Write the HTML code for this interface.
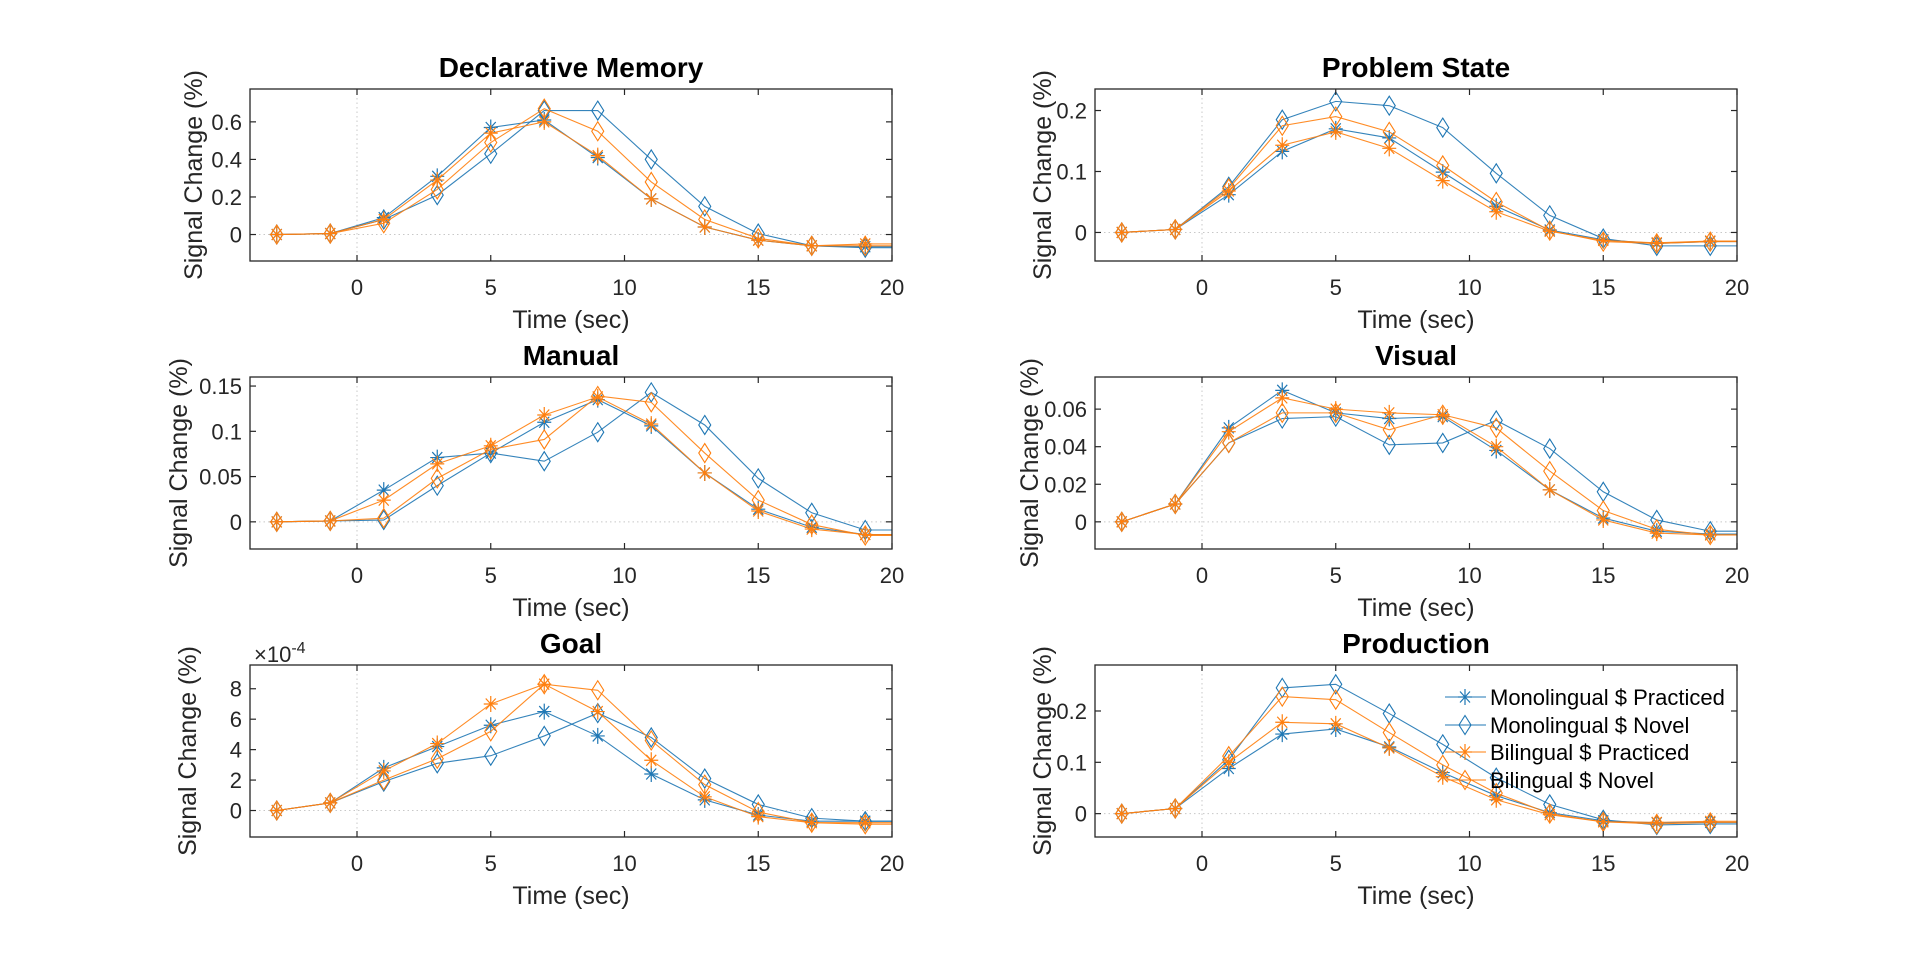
<!DOCTYPE html>
<html><head><meta charset="utf-8"><style>
html,body{margin:0;padding:0;background:#fff;}
svg{display:block;font-family:"Liberation Sans",Arial,sans-serif;}
</style></head><body>
<svg id="fig" width="1920" height="964" viewBox="0 0 1920 964"></svg>
<script>
const times = [-3,-1,1,3,5,7,9,11,13,15,17,19];
const seriesNames = ["Monolingual $ Practiced","Monolingual $ Novel","Bilingual $ Practiced","Bilingual $ Novel"];
const xTicks = [0,5,10,15,20];

const declMP = [0,0.005,0.09,0.31,0.57,0.61,0.41,0.19,0.04,-0.03,-0.06,-0.065];
const declMN = [0,0.005,0.08,0.21,0.43,0.66,0.66,0.40,0.15,0.005,-0.06,-0.07];
const declBP = [0,0.005,0.08,0.29,0.54,0.60,0.42,0.19,0.04,-0.03,-0.06,-0.05];
const declBN = [0,0.005,0.06,0.24,0.49,0.67,0.55,0.28,0.08,-0.02,-0.06,-0.06];
const declTicks = [0,0.2,0.4,0.6];

const probMP = [0,0.005,0.062,0.133,0.170,0.155,0.099,0.043,0.004,-0.012,-0.018,-0.015];
const probMN = [0,0.005,0.075,0.185,0.215,0.208,0.172,0.097,0.028,-0.010,-0.022,-0.022];
const probBP = [0,0.005,0.068,0.143,0.165,0.138,0.085,0.034,0.002,-0.013,-0.017,-0.014];
const probBN = [0,0.005,0.072,0.175,0.190,0.165,0.110,0.050,0.003,-0.015,-0.018,-0.015];
const probTicks = [0,0.1,0.2];

const manMP = [0,0.001,0.035,0.071,0.076,0.110,0.135,0.106,0.054,0.014,-0.006,-0.014];
const manMN = [0,0.001,0.002,0.040,0.076,0.067,0.099,0.143,0.107,0.048,0.010,-0.009];
const manBP = [0,0.001,0.024,0.064,0.084,0.118,0.138,0.108,0.054,0.012,-0.008,-0.014];
const manBN = [0,0.001,0.004,0.048,0.080,0.091,0.139,0.132,0.076,0.024,-0.003,-0.015];
const manTicks = [0,0.05,0.1,0.15];

const visMP = [0,0.0095,0.050,0.070,0.058,0.055,0.056,0.038,0.017,0.002,-0.005,-0.0065];
const visMN = [0,0.0095,0.042,0.055,0.056,0.041,0.042,0.054,0.039,0.016,0.001,-0.005];
const visBP = [0,0.0095,0.048,0.066,0.060,0.058,0.057,0.040,0.017,0.001,-0.006,-0.007];
const visBN = [0,0.0095,0.042,0.058,0.058,0.049,0.057,0.050,0.027,0.006,-0.004,-0.007];
const visTicks = [0,0.02,0.04,0.06];

const goalMP = [0,0.5,2.8,4.2,5.6,6.5,4.9,2.4,0.7,-0.3,-0.7,-0.7];
const goalMN = [0,0.5,1.9,3.1,3.6,4.9,6.4,4.8,2.1,0.4,-0.5,-0.7];
const goalBP = [0,0.5,2.6,4.4,7.0,8.3,6.5,3.3,0.9,-0.4,-0.8,-0.8];
const goalBN = [0,0.5,2.0,3.4,5.2,8.3,7.9,4.6,1.7,-0.1,-0.8,-0.9];
const goalTicks = [0,2,4,6,8];

const prodMP = [0,0.01,0.088,0.155,0.165,0.13,0.08,0.035,0.002,-0.014,-0.018,-0.017];
const prodMN = [0,0.01,0.105,0.245,0.252,0.195,0.135,0.07,0.018,-0.012,-0.022,-0.02];
const prodBP = [0,0.01,0.10,0.178,0.175,0.128,0.072,0.027,-0.002,-0.016,-0.017,-0.015];
const prodBN = [0,0.01,0.112,0.228,0.222,0.158,0.095,0.04,0.0,-0.016,-0.02,-0.017];
const prodTicks = [0,0.1,0.2];

const NS = "http://www.w3.org/2000/svg";
const svg = document.getElementById("fig");
const BLUE = "#1f77b4", ORANGE = "#ff7f0e";
const colors = [BLUE,BLUE,ORANGE,ORANGE];
const markers = ["star","diamond","star","diamond"];

function mk(tag, attrs, parent){
  const e = document.createElementNS(NS, tag);
  for (const k in attrs) e.setAttribute(k, attrs[k]);
  (parent||svg).appendChild(e);
  return e;
}
function marker(g, kind, x, y, c){
  if (kind === "diamond"){
    const p = mk("polygon",{points:`${x},${y-9.5} ${x+6},${y} ${x},${y+9.5} ${x-6},${y}`,fill:"none",stroke:c,"stroke-width":1.1},g);
    
    
  } else {
    const s = mk("path",{d:`M${x-7},${y}H${x+7}M${x},${y-8}V${y+8}M${x-5},${y-5.5}L${x+5},${y+5.5}M${x-5},${y+5.5}L${x+5},${y-5.5}`,stroke:c,"stroke-width":1.2,fill:"none"},g);
    
    
  }
}

const plots = [
  {id:"declarative-memory", title:"Declarative Memory", x0:250, y0:89, ymin:-0.141, ymax:0.775, ticks:declTicks, data:[declMP,declMN,declBP,declBN], yl:48},
  {id:"problem-state", title:"Problem State", x0:1095, y0:89, ymin:-0.0468, ymax:0.2353, ticks:probTicks, data:[probMP,probMN,probBP,probBN], yl:44},
  {id:"manual", title:"Manual", x0:250, y0:377, ymin:-0.030, ymax:0.160, ticks:manTicks, data:[manMP,manMN,manBP,manBN], yl:63},
  {id:"visual", title:"Visual", x0:1095, y0:377, ymin:-0.01446, ymax:0.0771, ticks:visTicks, data:[visMP,visMN,visBP,visBN], yl:57},
  {id:"goal", title:"Goal", x0:250, y0:665, ymin:-1.74, ymax:9.56, ticks:goalTicks, data:[goalMP,goalMN,goalBP,goalBN], exp:true, yl:54},
  {id:"production", title:"Production", x0:1095, y0:665, ymin:-0.0455, ymax:0.2896, ticks:prodTicks, data:[prodMP,prodMN,prodBP,prodBN], legend:true, yl:44}
];
const W = 642, H = 172, XMIN = -4, XMAX = 20;

plots.forEach((p, pi) => {
  const g = mk("g",{});
  
  
  const sx = v => p.x0 + (v - XMIN) / (XMAX - XMIN) * W;
  const sy = v => p.y0 + H - (v - p.ymin) / (p.ymax - p.ymin) * H;
  mk("rect",{x:p.x0,y:p.y0,width:W,height:H,fill:"#fff"},g);
  const gz1 = mk("line",{x1:sx(0),x2:sx(0),y1:p.y0,y2:p.y0+H,stroke:"#c8c8c8","stroke-width":1,"stroke-dasharray":"1.5,3"},g);
  
  
  const gz2 = mk("line",{x1:p.x0,x2:p.x0+W,y1:sy(0),y2:sy(0),stroke:"#c8c8c8","stroke-width":1,"stroke-dasharray":"1.5,3"},g);
  
  
  const cid = "clip"+pi;
  const cp = mk("clipPath",{id:cid},g);
  mk("rect",{x:p.x0,y:p.y0,width:W,height:H},cp);
  const dg = mk("g",{"clip-path":`url(#${cid})`},g);
  p.data.forEach((arr, si) => {
    const sg = mk("g",{},dg);
    
    
    let pts = arr.map((v,i)=>`${sx(times[i])},${sy(v)}`);
    pts.push(`${sx(21)},${sy(arr[arr.length-1])}`);
    const pl = mk("polyline",{points:pts.join(" "),fill:"none",stroke:colors[si],"stroke-width":1.1,"stroke-opacity":0.9},sg);
    
    
    arr.forEach((v,i)=>marker(sg, markers[si], sx(times[i]), sy(v), colors[si]));
  });
  const box = mk("rect",{x:p.x0,y:p.y0,width:W,height:H,fill:"none",stroke:"#262626","stroke-width":1.3},g);
  
  
  xTicks.forEach(t => {
    const x = sx(t);
    mk("line",{x1:x,x2:x,y1:p.y0+H,y2:p.y0+H-6,stroke:"#262626","stroke-width":1.2},g);
    mk("line",{x1:x,x2:x,y1:p.y0,y2:p.y0+6,stroke:"#262626","stroke-width":1.2},g);
    const tl = mk("text",{x:x,y:p.y0+H+34,"text-anchor":"middle","font-size":22,fill:"#262626"},g);
    tl.textContent = t;
    
    
  });
  p.ticks.forEach(t => {
    const y = sy(t);
    mk("line",{x1:p.x0,x2:p.x0+6,y1:y,y2:y,stroke:"#262626","stroke-width":1.2},g);
    mk("line",{x1:p.x0+W,x2:p.x0+W-6,y1:y,y2:y,stroke:"#262626","stroke-width":1.2},g);
    const tl = mk("text",{x:p.x0-8,y:y+8,"text-anchor":"end","font-size":22,fill:"#262626"},g);
    tl.textContent = String(t);
    
    
  });
  const ti = mk("text",{x:p.x0+W/2,y:p.y0-12,"text-anchor":"middle","font-size":28,"font-weight":"bold",fill:"#000"},g);
  ti.textContent = p.title;
  
  
  const xl = mk("text",{x:p.x0+W/2,y:p.y0+H+67,"text-anchor":"middle","font-size":25,fill:"#262626"},g);
  xl.textContent = "Time (sec)";
  
  
  const ycx = p.x0-p.yl, ycy = p.y0+H/2;
  const yl = mk("text",{x:ycx,y:ycy,"text-anchor":"middle","font-size":25,fill:"#262626",transform:`rotate(-90 ${ycx} ${ycy})`},g);
  yl.textContent = "Signal Change (%)";
  
  
  if (p.exp){
    const ex = mk("text",{x:p.x0+4,y:p.y0-3,"font-size":22,fill:"#262626"},g);
    ex.innerHTML = '×10<tspan dy="-9" font-size="16">-4</tspan>';
    
    
  }
  if (p.legend){
    const lg = mk("g",{},g);
    
    
    const ly = [697,725,752,780];
    seriesNames.forEach((n,si)=>{
      const eg = mk("g",{},lg);
      
      
      mk("line",{x1:1445,x2:1486,y1:ly[si],y2:ly[si],stroke:colors[si],"stroke-width":1.1},eg);
      marker(eg, markers[si], 1465, ly[si], colors[si]);
      const t = mk("text",{x:1490,y:ly[si]+8,"font-size":22,fill:"#000"},eg);
      t.textContent = n;
    });
  }
});
</script>
</body></html>
